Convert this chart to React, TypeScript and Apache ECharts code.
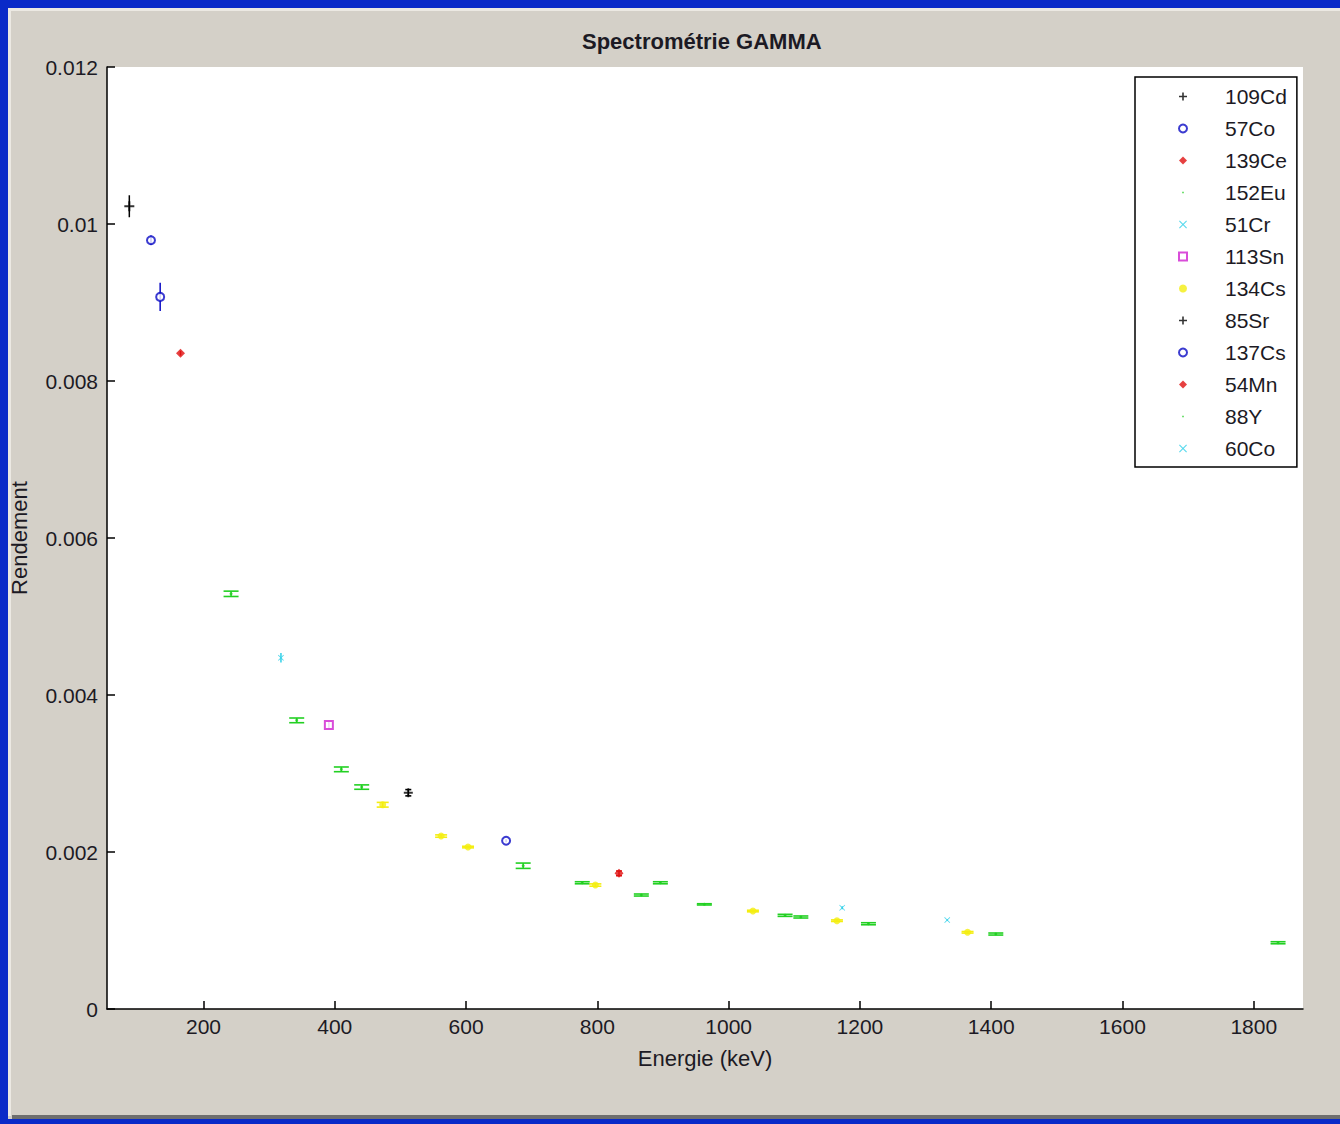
import React, { useEffect, useRef } from "react";
import * as echarts from "echarts";

// Each point: [Energie (keV), Rendement, incertitude]
const cd109 = [[87, 0.010226, 0.00014]];
const co57 = [[120, 0.009793, 0.00006], [134, 0.009071, 0.00018]];
const ce139 = [[165, 0.008354, 0.00003]];
const eu152 = [
  [242, 0.005289, 0.000034], [342, 0.003677, 0.00003], [410, 0.003053, 0.00003],
  [441, 0.002827, 0.000028], [687, 0.001825, 0.000034], [777, 0.001608, 0.000013],
  [867, 0.001452, 0.000013], [963, 0.001333, 0.000008], [1086, 0.001193, 0.000013],
  [1110, 0.001172, 0.000013], [1213, 0.001086, 0.000013], [1407, 0.000955, 0.000013],
];
const cr51 = [[318, 0.004474, 0.00006]];
const sn113 = [[391, 0.003617, 0.00004]];
const cs134 = [
  [473, 0.002602, 0.00003], [562, 0.002203, 0.000015], [603, 0.002063, 0.00001],
  [797, 0.001579, 0.000015], [1037, 0.001248, 0.00001], [1165, 0.001125, 0.00001],
  [1364, 0.000977, 0.00001],
];
const sr85 = [[512, 0.002755, 0.00004]];
const cs137 = [[661, 0.002143, 0.00002]];
const mn54 = [[833, 0.001728, 0.00003]];
const y88 = [[896, 0.001608, 0.000013], [1837, 0.000844, 0.000013]];
const co60 = [[1173, 0.00129, 0.00002], [1333, 0.001133, 0.00001]];

const xTicks = [200, 400, 600, 800, 1000, 1200, 1400, 1600, 1800];

const PLUS = "path://M4,0H6V4H10V6H6V10H4V6H0V4H4Z";
const CROSS = "path://M0,1L1,0L5,4L9,0L10,1L6,5L10,9L9,10L5,6L1,10L0,9L4,5Z";
const DOT = "path://M0,0L0,0M10,10L10,10M4,4H6V6H4Z";

const FONT = "'Liberation Sans', Arial, sans-serif";
const TXT = "#1c1a24";

type Spec = {
  name: string;
  data: number[][];
  symbol: string;
  size: number;
  color: string;
  cap: number;
  empty?: boolean;
  legendIcon?: string;
};

const specs: Spec[] = [
  { name: "109Cd", data: cd109, symbol: PLUS, size: 10, color: "#000000", cap: 0 },
  { name: "57Co", data: co57, symbol: "emptyCircle", size: 8, color: "#0a0ac4", cap: 0, empty: true },
  { name: "139Ce", data: ce139, symbol: "diamond", size: 9, color: "#e01010", cap: 0 },
  { name: "152Eu", data: eu152, symbol: "circle", size: 3, color: "#22d022", cap: 15, legendIcon: DOT },
  { name: "51Cr", data: cr51, symbol: CROSS, size: 6, color: "#30d0e8", cap: 0 },
  { name: "113Sn", data: sn113, symbol: "emptyRect", size: 8, color: "#d020d0", cap: 0, empty: true },
  { name: "134Cs", data: cs134, symbol: "circle", size: 7, color: "#f4ee10", cap: 12 },
  { name: "85Sr", data: sr85, symbol: PLUS, size: 9, color: "#000000", cap: 6 },
  { name: "137Cs", data: cs137, symbol: "emptyCircle", size: 8, color: "#0a0ac4", cap: 0, empty: true },
  { name: "54Mn", data: mn54, symbol: "diamond", size: 9, color: "#e01010", cap: 6 },
  { name: "88Y", data: y88, symbol: "circle", size: 3, color: "#22d022", cap: 15, legendIcon: DOT },
  { name: "60Co", data: co60, symbol: CROSS, size: 6, color: "#30d0e8", cap: 0 },
];

export default function App() {
  const ref = useRef<HTMLDivElement>(null);

  useEffect(() => {
    if (!ref.current) return;
    const chart = echarts.init(ref.current, null, { renderer: "svg" });

    const scatterSeries = specs.map((s) => ({
      type: "scatter",
      name: s.name,
      data: s.data.map((d) => [d[0], d[1]]),
      symbol: s.symbol,
      symbolSize: s.size,
      z: 4,
      itemStyle: s.empty
        ? { color: s.color, borderColor: s.color, borderWidth: 1.6 }
        : { color: s.color },
    }));

    const errorSeries = specs.map((s) => ({
      type: "custom",
      name: s.name,
      data: s.data,
      encode: { x: 0, y: 1 },
      z: 3,
      renderItem: (params: any, api: any) => {
        const x = api.value(0);
        const y = api.value(1);
        const e = api.value(2);
        const top = api.coord([x, y + e]);
        const bot = api.coord([x, y - e]);
        const children: any[] = [
          {
            type: "line",
            shape: { x1: top[0], y1: top[1], x2: bot[0], y2: bot[1] },
            style: { stroke: s.color, lineWidth: 1.5 },
          },
        ];
        if (s.cap > 0) {
          const h = s.cap / 2;
          children.push(
            {
              type: "line",
              shape: { x1: top[0] - h, y1: top[1], x2: top[0] + h, y2: top[1] },
              style: { stroke: s.color, lineWidth: 1.6 },
            },
            {
              type: "line",
              shape: { x1: bot[0] - h, y1: bot[1], x2: bot[0] + h, y2: bot[1] },
              style: { stroke: s.color, lineWidth: 1.6 },
            }
          );
        }
        return { type: "group", children };
      },
    }));

    chart.setOption({
      animation: false,
      backgroundColor: "#0a2ac8",
      textStyle: { fontFamily: FONT },
      graphic: [
        {
          type: "rect",
          z: -100,
          shape: { x: 8, y: 8, width: 1332, height: 1111 },
          style: { fill: "#d4d0c8" },
          silent: true,
        },
        {
          type: "rect",
          z: -99,
          shape: { x: 8, y: 8, width: 1332, height: 3 },
          style: { fill: "#ece9e3" },
          silent: true,
        },
        {
          type: "rect",
          z: -99,
          shape: { x: 8, y: 8, width: 3, height: 1108 },
          style: { fill: "#ece9e3" },
          silent: true,
        },
        {
          type: "rect",
          z: -99,
          shape: { x: 12, y: 1115, width: 1328, height: 4 },
          style: { fill: "#6e6e6e" },
          silent: true,
        },
      ],
      title: {
        text: "Spectrométrie GAMMA",
        left: 577,
        top: 25,
        textStyle: { fontFamily: FONT, fontSize: 22, fontWeight: "bold", color: TXT },
      },
      grid: {
        left: 107,
        right: 37,
        top: 67,
        bottom: 115,
        show: true,
        backgroundColor: "#ffffff",
        borderWidth: 0,
      },
      legend: {
        data: specs.map((s) => (s.legendIcon ? { name: s.name, icon: s.legendIcon } : { name: s.name })),
        orient: "vertical",
        left: 1135,
        top: 77,
        itemWidth: 8,
        itemHeight: 8,
        itemGap: 11,
        padding: [9, 10, 8, 43],
        backgroundColor: "#ffffff",
        borderColor: "#000000",
        borderWidth: 1.5,
        borderRadius: 0,
        selectedMode: false,
        textStyle: { fontFamily: FONT, fontSize: 21, color: TXT, padding: [0, 0, 0, 33] },
      },
      xAxis: {
        type: "value",
        min: 53,
        max: 1875,
        name: "Energie (keV)",
        nameLocation: "middle",
        nameGap: 38,
        nameTextStyle: { fontFamily: FONT, fontSize: 22, color: TXT },
        axisLine: { show: true, onZero: false, lineStyle: { color: "#000000", width: 1.5 } },
        axisTick: { show: true, inside: true, length: 8, customValues: xTicks, lineStyle: { color: "#000000", width: 1.5 } },
        axisLabel: {
          customValues: xTicks,
          margin: 7,
          fontFamily: FONT,
          fontSize: 21,
          color: TXT,
          formatter: (v: number) => String(v),
        },
        splitLine: { show: false },
      },
      yAxis: {
        type: "value",
        min: 0,
        max: 0.012,
        interval: 0.002,
        name: "Rendement",
        nameLocation: "middle",
        nameGap: 77,
        nameRotate: 90,
        nameTextStyle: { fontFamily: FONT, fontSize: 22, color: TXT },
        axisLine: { show: true, lineStyle: { color: "#000000", width: 1.5 } },
        axisTick: { show: true, inside: true, length: 8, lineStyle: { color: "#000000", width: 1.5 } },
        axisLabel: { margin: 9, fontFamily: FONT, fontSize: 21, color: TXT },
        splitLine: { show: false },
      },
      series: [...scatterSeries, ...errorSeries],
    });

    return () => chart.dispose();
  }, []);

  return (
    <div
      ref={ref}
      style={{ position: "fixed", left: 0, top: 0, width: 1340, height: 1124 }}
    />
  );
}
